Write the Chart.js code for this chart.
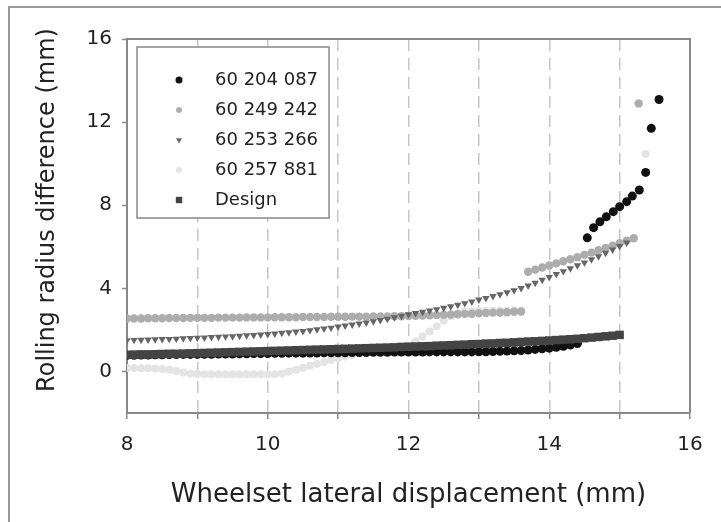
<!DOCTYPE html>
<html>
<head>
<meta charset="utf-8">
<script src="https://cdn.jsdelivr.net/npm/chart.js@4.4.0/dist/chart.umd.min.js"></script>
<style>
    html, body { margin: 0; padding: 0; background: #fff; }
    #wrap { width: 721px; height: 522px; }
</style>
</head>
<body>
<div id="wrap"><canvas id="chart" width="721" height="522"></canvas></div>
<script>
// ── data ────────────────────────────────────────────────────────
const xTicks = [8, 9, 10, 11, 12, 13, 14, 15, 16];
const yTicks = [0, 4, 8, 12, 16];

// 60 204 087 (black circles)
const blackX = [8, 8.1, 8.2, 8.3, 8.4, 8.5, 8.6, 8.7, 8.8, 8.9, 9, 9.1, 9.2, 9.3, 9.4, 9.5, 9.6, 9.7, 9.8, 9.9,
    10, 10.1, 10.2, 10.3, 10.4, 10.5, 10.6, 10.7, 10.8, 10.9, 11, 11.1, 11.2, 11.3, 11.4, 11.5, 11.6, 11.7, 11.8, 11.9,
    12, 12.1, 12.2, 12.3, 12.4, 12.5, 12.6, 12.7, 12.8, 12.9, 13, 13.1, 13.2, 13.3, 13.4, 13.5, 13.6, 13.7, 13.8, 13.9,
    14, 14.1, 14.2, 14.3, 14.4,
    14.54, 14.63, 14.72, 14.81, 14.91, 15.0, 15.1, 15.18, 15.28, 15.37, 15.45, 15.56];
const blackY = [0.78, 0.78, 0.79, 0.79, 0.80, 0.80, 0.81, 0.81, 0.82, 0.82, 0.82, 0.83, 0.83, 0.84, 0.84, 0.84, 0.85, 0.85, 0.86, 0.86,
    0.86, 0.87, 0.87, 0.88, 0.88, 0.88, 0.89, 0.89, 0.90, 0.90, 0.90, 0.90, 0.91, 0.91, 0.91, 0.92, 0.92, 0.92, 0.93, 0.93,
    0.93, 0.93, 0.93, 0.94, 0.94, 0.94, 0.94, 0.94, 0.94, 0.94, 0.95, 0.95, 0.96, 0.97, 0.98, 0.99, 1.01, 1.03, 1.06, 1.09,
    1.12, 1.16, 1.21, 1.27, 1.34,
    6.43, 6.92, 7.20, 7.44, 7.69, 7.93, 8.17, 8.44, 8.73, 9.58, 11.70, 13.09];

// 60 249 242 (grey circles)
const greyX = [8, 8.1, 8.2, 8.3, 8.4, 8.5, 8.6, 8.7, 8.8, 8.9, 9, 9.1, 9.2, 9.3, 9.4, 9.5, 9.6, 9.7, 9.8, 9.9,
    10, 10.1, 10.2, 10.3, 10.4, 10.5, 10.6, 10.7, 10.8, 10.9, 11, 11.1, 11.2, 11.3, 11.4, 11.5, 11.6, 11.7, 11.8, 11.9,
    12, 12.1, 12.2, 12.3, 12.4, 12.5, 12.6, 12.7, 12.8, 12.9, 13, 13.1, 13.2, 13.3, 13.4, 13.5, 13.6,
    13.7, 13.8, 13.9, 14, 14.1, 14.2, 14.3, 14.4, 14.5, 14.6, 14.7, 14.8, 14.9, 15, 15.1, 15.2, 15.27];
const greyY = [2.55, 2.55, 2.55, 2.56, 2.56, 2.56, 2.57, 2.57, 2.57, 2.58, 2.58, 2.58, 2.58, 2.59, 2.59, 2.59, 2.59, 2.60, 2.60, 2.60,
    2.60, 2.61, 2.61, 2.61, 2.61, 2.62, 2.62, 2.62, 2.62, 2.63, 2.63, 2.63, 2.64, 2.64, 2.64, 2.65, 2.65, 2.65, 2.66, 2.66,
    2.67, 2.68, 2.69, 2.70, 2.71, 2.73, 2.74, 2.75, 2.77, 2.78, 2.80, 2.81, 2.83, 2.84, 2.85, 2.87, 2.88,
    4.80, 4.90, 5.00, 5.10, 5.20, 5.30, 5.40, 5.50, 5.61, 5.72, 5.83, 5.94, 6.05, 6.17, 6.29, 6.41, 12.90];

// 60 253 266 (down triangles)
const triX = [8, 8.1, 8.2, 8.3, 8.4, 8.5, 8.6, 8.7, 8.8, 8.9, 9, 9.1, 9.2, 9.3, 9.4, 9.5, 9.6, 9.7, 9.8, 9.9,
    10, 10.1, 10.2, 10.3, 10.4, 10.5, 10.6, 10.7, 10.8, 10.9, 11, 11.1, 11.2, 11.3, 11.4, 11.5, 11.6, 11.7, 11.8, 11.9,
    12, 12.1, 12.2, 12.3, 12.4, 12.5, 12.6, 12.7, 12.8, 12.9, 13, 13.1, 13.2, 13.3, 13.4, 13.5, 13.6, 13.7, 13.8, 13.9,
    14, 14.1, 14.2, 14.3, 14.4, 14.5, 14.6, 14.7, 14.8, 14.9, 15, 15.1];
const triY = [1.50, 1.51, 1.52, 1.53, 1.54, 1.55, 1.56, 1.57, 1.59, 1.60, 1.62, 1.63, 1.65, 1.66, 1.68, 1.69, 1.71, 1.73, 1.75, 1.77,
    1.79, 1.82, 1.85, 1.88, 1.91, 1.94, 1.98, 2.02, 2.06, 2.10, 2.15, 2.20, 2.25, 2.30, 2.35, 2.41, 2.47, 2.53, 2.60, 2.67,
    2.74, 2.80, 2.86, 2.92, 2.99, 3.06, 3.13, 3.20, 3.28, 3.36, 3.45, 3.53, 3.62, 3.71, 3.80, 3.90, 4.01, 4.13, 4.26, 4.40,
    4.54, 4.68, 4.82, 4.96, 5.10, 5.24, 5.39, 5.54, 5.70, 5.86, 6.03, 6.20];

// 60 257 881 (very light circles)
const lightX = [8, 8.1, 8.2, 8.3, 8.4, 8.5, 8.6, 8.7, 8.8, 8.9, 9, 9.1, 9.2, 9.3, 9.4, 9.5, 9.6, 9.7, 9.8, 9.9,
    10, 10.1, 10.2, 10.3, 10.4, 10.5, 10.6, 10.7, 10.8, 10.9, 11, 11.1, 11.2, 11.3, 11.4, 11.5, 11.6, 11.7, 11.8, 11.9,
    12, 12.1, 12.2, 12.3, 12.4, 12.5, 12.6, 12.7, 12.8, 12.9, 13, 13.1, 13.2, 13.3, 13.4, 13.5, 13.6, 15.37];
const lightY = [0.16, 0.16, 0.15, 0.15, 0.14, 0.12, 0.08, 0.02, -0.05, -0.10, -0.12, -0.13, -0.14, -0.14, -0.14, -0.14, -0.14, -0.14, -0.14, -0.14,
    -0.14, -0.13, -0.10, -0.02, 0.08, 0.18, 0.28, 0.37, 0.46, 0.55, 0.64, 0.72, 0.79, 0.86, 0.92, 0.97, 1.01, 1.05, 1.09, 1.14,
    1.25, 1.45, 1.68, 1.92, 2.18, 2.45, 2.66, 2.80, 2.87, 2.90, 2.91, 2.92, 2.92, 2.93, 2.93, 2.94, 2.94, 10.46];

// Design (dark squares)
const designX = [8, 8.1, 8.2, 8.3, 8.4, 8.5, 8.6, 8.7, 8.8, 8.9, 9, 9.1, 9.2, 9.3, 9.4, 9.5, 9.6, 9.7, 9.8, 9.9,
    10, 10.1, 10.2, 10.3, 10.4, 10.5, 10.6, 10.7, 10.8, 10.9, 11, 11.1, 11.2, 11.3, 11.4, 11.5, 11.6, 11.7, 11.8, 11.9,
    12, 12.1, 12.2, 12.3, 12.4, 12.5, 12.6, 12.7, 12.8, 12.9, 13, 13.1, 13.2, 13.3, 13.4, 13.5, 13.6, 13.7, 13.8, 13.9,
    14, 14.1, 14.2, 14.3, 14.4, 14.5, 14.6, 14.7, 14.8, 14.9, 15];
const designY = [0.80, 0.81, 0.82, 0.82, 0.83, 0.84, 0.85, 0.85, 0.86, 0.87, 0.88, 0.89, 0.90, 0.91, 0.92, 0.93, 0.94, 0.95, 0.96, 0.97,
    0.98, 0.99, 1.00, 1.01, 1.02, 1.03, 1.04, 1.05, 1.06, 1.07, 1.08, 1.09, 1.10, 1.11, 1.12, 1.13, 1.14, 1.15, 1.16, 1.18,
    1.19, 1.20, 1.21, 1.22, 1.24, 1.25, 1.26, 1.28, 1.29, 1.31, 1.32, 1.34, 1.35, 1.37, 1.38, 1.40, 1.42, 1.44, 1.45, 1.47,
    1.49, 1.51, 1.53, 1.55, 1.57, 1.60, 1.63, 1.66, 1.69, 1.72, 1.76];

const FONT = '"DejaVu Sans", Verdana, sans-serif';
const TEXT = '#222';
const Y_TITLE = 'Rolling radius difference (mm)';

const pts = (xs, ys) => xs.map((x, i) => ({ x, y: ys[i] }));

// frame: outer border, plot box top/right, y title and the boxed legend
const framePlugin = {
    id: 'frame',
    beforeDraw(chart) {
        const ctx = chart.ctx;
        ctx.save();
        ctx.fillStyle = '#fff';
        ctx.fillRect(0, 0, chart.width, chart.height);
        ctx.strokeStyle = '#999';
        ctx.lineWidth = 2;
        ctx.strokeRect(9, 7, 800, 600);

        // y title sits a bit above the plot centre in the original
        ctx.translate(48, 210);
        ctx.rotate(-Math.PI / 2);
        ctx.font = '24px ' + FONT;
        ctx.fillStyle = TEXT;
        ctx.textAlign = 'center';
        ctx.textBaseline = 'middle';
        ctx.fillText(Y_TITLE, 0, 0);
        ctx.restore();
    },
    beforeDatasetsDraw(chart) {
        const { ctx, chartArea: a } = chart;
        ctx.save();
        ctx.strokeStyle = '#888';
        ctx.lineWidth = 2;
        ctx.beginPath();
        ctx.moveTo(a.left, a.top);
        ctx.lineTo(a.right, a.top);
        ctx.lineTo(a.right, a.bottom);
        ctx.stroke();
        ctx.restore();
    },
    afterDraw(chart) {
        const ctx = chart.ctx;
        const sets = chart.data.datasets;
        ctx.save();
        ctx.font = '18px ' + FONT;
        const textX = 215, markX = 179, firstY = 80, rowH = 30;
        const w = Math.max(...sets.map(d => ctx.measureText(d.label).width));
        const box = { x: 137, y: 47, w: textX + w + 11 - 137, h: 171 };
        ctx.fillStyle = '#fff';
        ctx.fillRect(box.x, box.y, box.w, box.h);
        ctx.strokeStyle = '#888';
        ctx.lineWidth = 1.5;
        ctx.strokeRect(box.x, box.y, box.w, box.h);
        sets.forEach((d, i) => {
            const y = firstY + i * rowH;
            ctx.fillStyle = d.backgroundColor;
            Chart.helpers.drawPoint(ctx, {
                pointStyle: d.pointStyle,
                rotation: d.rotation || 0,
                radius: d.legendRadius,
                borderWidth: 0
            }, markX, y);
            ctx.fillStyle = TEXT;
            ctx.textBaseline = 'middle';
            ctx.fillText(d.label, textX, y);
        });
        ctx.restore();
    }
};

new Chart(document.getElementById('chart'), {
    type: 'scatter',
    data: {
        datasets: [
            { label: '60 204 087', data: pts(blackX, blackY), backgroundColor: '#111', borderColor: '#111',
              pointStyle: 'circle', pointRadius: 4.5, legendRadius: 3.5, order: 1 },
            { label: '60 249 242', data: pts(greyX, greyY), backgroundColor: '#adadad', borderColor: '#adadad',
              pointStyle: 'circle', pointRadius: 4.2, legendRadius: 3, order: 3 },
            { label: '60 253 266', data: pts(triX, triY), backgroundColor: '#666', borderColor: '#666',
              pointStyle: 'triangle', rotation: 180, pointRadius: 4.3, legendRadius: 3.5, order: 2 },
            { label: '60 257 881', data: pts(lightX, lightY), backgroundColor: '#e4e4e4', borderColor: '#e4e4e4',
              pointStyle: 'circle', pointRadius: 4, legendRadius: 3, order: 4 },
            { label: 'Design', data: pts(designX, designY), backgroundColor: '#444', borderColor: '#444',
              pointStyle: 'rect', pointRadius: 6, legendRadius: 4.5, order: 0 }
        ]
    },
    options: {
        responsive: false,
        animation: false,
        elements: { point: { borderWidth: 0, hoverRadius: 0 } },
        layout: { padding: { top: 39, right: 31, left: 0, bottom: 0 } },
        scales: {
            x: {
                type: 'linear',
                min: 8, max: 16,
                afterFit: s => { s.height = 109; },
                afterBuildTicks: axis => { axis.ticks = xTicks.map(v => ({ value: v })); },
                ticks: {
                    autoSkip: false, maxRotation: 0, padding: 14,
                    color: TEXT, font: { family: FONT, size: 20 },
                    callback: v => (v % 2 === 0 ? String(v) : '')
                },
                grid: { color: '#c6c6c6', lineWidth: 1.5, tickColor: '#888', tickLength: 6, tickWidth: 1.5 },
                border: { color: '#888', width: 2, dash: [12, 7] },
                title: {
                    display: true, text: 'Wheelset lateral displacement (mm)',
                    color: TEXT, font: { family: FONT, size: 26 },
                    padding: { top: 0, bottom: 11 }
                }
            },
            y: {
                min: -2, max: 16,
                afterFit: s => { s.width = 127; },
                afterBuildTicks: axis => { axis.ticks = yTicks.map(v => ({ value: v })); },
                ticks: { padding: 10, color: TEXT, font: { family: FONT, size: 20 } },
                grid: { drawOnChartArea: false, tickColor: '#888', tickLength: 5, tickWidth: 1.5 },
                border: { color: '#888', width: 2 },
                title: { display: false }
            }
        },
        plugins: { legend: { display: false }, tooltip: { enabled: false } }
    },
    plugins: [framePlugin]
});
</script>
</body>
</html>
